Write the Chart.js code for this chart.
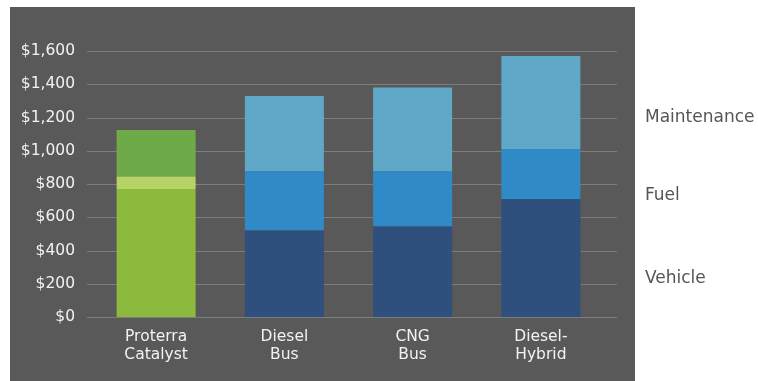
<!DOCTYPE html>
<html>
<head>
<meta charset="utf-8">
<style>
  html, body { margin: 0; padding: 0; background: #fff; }
  #wrap { position: relative; width: 758px; height: 381px; }
  canvas { position: absolute; left: 0; top: 0; }
  .side { position: absolute; left: 645px; font-family: "DejaVu Sans", sans-serif; font-size: 17px; color: #555; }
</style>
<script src="https://cdn.jsdelivr.net/npm/chart.js"></script>
</head>
<body>
<div id="wrap">
  <canvas id="chart" width="758" height="381"></canvas>
  <div class="side" style="top:106px">Maintenance</div>
  <div class="side" style="top:184px">Fuel</div>
  <div class="side" style="top:267px">Vehicle</div>
</div>
<script>
// values, $ per vehicle
const categories = [['Proterra', 'Catalyst'], ['Diesel', 'Bus'], ['CNG', 'Bus'], ['Diesel-', 'Hybrid']];
const vehicle = [770, 520, 545, 710];
const fuel = [75, 355, 330, 300];
const maintenance = [280, 455, 505, 560];
const yTicks = [0, 200, 400, 600, 800, 1000, 1200, 1400, 1600];

const green = { vehicle: '#8cba3c', fuel: '#b6d366', maintenance: '#6eab48' };
const blue = { vehicle: '#2f4f7d', fuel: '#318ac8', maintenance: '#5fa8c8' };
const colorsFor = key => categories.map((c, i) => i === 0 ? green[key] : blue[key]);

// dark panel + extended grid lines
const panel = {
  id: 'panel',
  beforeDraw(chart) {
    const ctx = chart.ctx;
    ctx.save();
    ctx.fillStyle = '#595959';
    ctx.fillRect(10, 7, 625, 374);
    const y = chart.scales.y;
    const a = chart.chartArea;
    ctx.strokeStyle = '#7d7d7d';
    ctx.lineWidth = 1.2;
    yTicks.forEach(v => {
      const py = Math.round(y.getPixelForValue(v)) + 0.5;
      ctx.beginPath();
      ctx.moveTo(a.left - 5, py);
      ctx.lineTo(a.right + 12, py);
      ctx.stroke();
    });
    ctx.restore();
  }
};

const ds = (label, data, key) => ({
  label, data,
  backgroundColor: colorsFor(key),
  borderWidth: 0,
  barPercentage: 0.616,
  categoryPercentage: 1
});

new Chart('chart', {
  type: 'bar',
  data: {
    labels: categories,
    datasets: [
      ds('Vehicle', vehicle, 'vehicle'),
      ds('Fuel', fuel, 'fuel'),
      ds('Maintenance', maintenance, 'maintenance')
    ]
  },
  options: {
    responsive: false,
    animation: false,
    layout: { padding: { left: 0, right: 153, top: 51, bottom: 0 } },
    plugins: { legend: { display: false }, tooltip: { enabled: false } },
    scales: {
      x: {
        stacked: true,
        grid: { display: false },
        border: { display: false },
        ticks: {
          color: '#f2f2f2',
          padding: 3,
          font: { family: 'DejaVu Sans', size: 15.5, lineHeight: 1.15 },
          maxRotation: 0
        },
        afterFit(s) { s.height = 64; }
      },
      y: {
        stacked: true,
        min: 0,
        max: 1600,
        grid: { display: false },
        border: { display: false },
        afterBuildTicks(s) { s.ticks = yTicks.map(v => ({ value: v })); },
        ticks: {
          color: '#f2f2f2',
          padding: 9,
          font: { family: 'DejaVu Sans', size: 15.5 },
          callback: v => '$' + v.toLocaleString('en-US')
        },
        afterFit(s) { s.width = 92; }
      }
    }
  },
  plugins: [panel]
});
</script>
</body>
</html>
